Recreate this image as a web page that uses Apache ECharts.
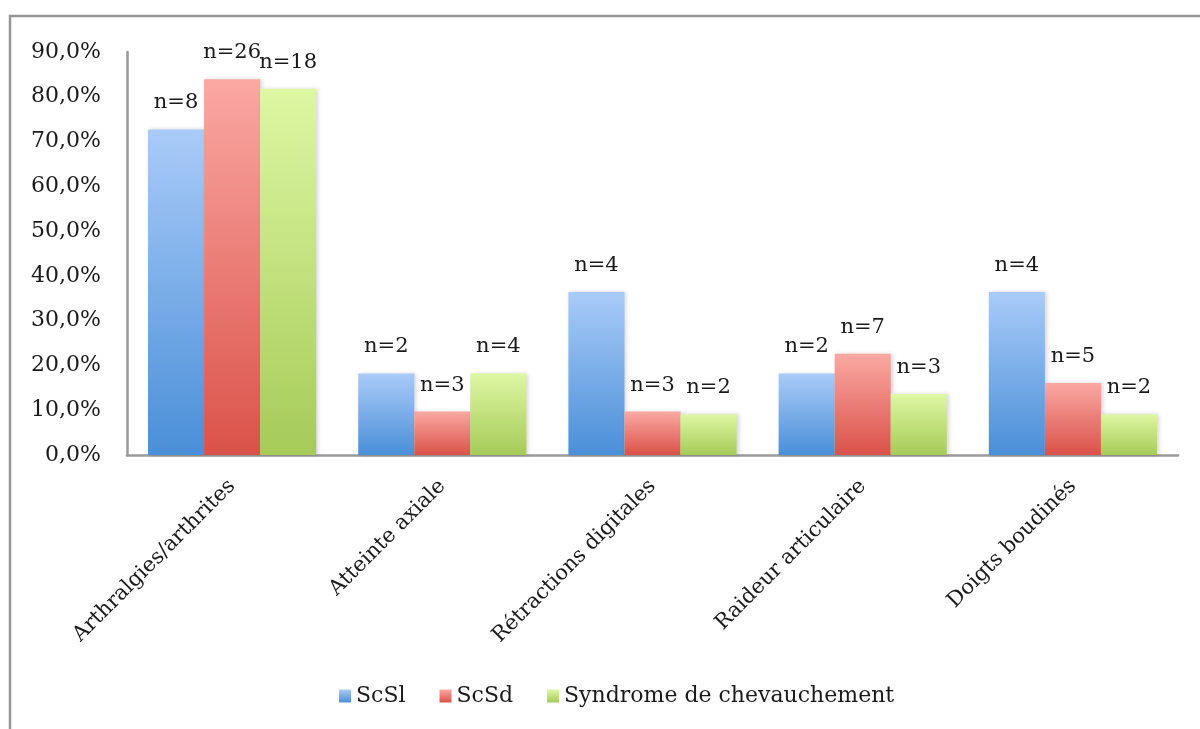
<!DOCTYPE html>
<html>
<head>
<meta charset="utf-8">
<title>Atteintes articulaires</title>
<script src="https://cdn.jsdelivr.net/npm/echarts@6/dist/echarts.min.js"></script>
<style>
  html, body { margin: 0; padding: 0; background: #ffffff; }
  #chart { width: 1200px; height: 729px; }
</style>
</head>
<body>
<div id="chart"></div>
<script>
// Categories of joint involvement
const categories = ['Arthralgies/arthrites', 'Atteinte axiale', 'Rétractions digitales', 'Raideur articulaire', 'Doigts boudinés'];

// Percentages per group
const scslValues = [72.7, 18.2, 36.4, 18.2, 36.4];
const scsdValues = [83.9, 9.7, 9.7, 22.6, 16.1];
const overlapValues = [81.8, 18.2, 9.1, 13.6, 9.1];

// Patient counts shown above each bar
const scslCounts = [8, 2, 4, 2, 4];
const scsdCounts = [26, 3, 3, 7, 5];
const overlapCounts = [18, 4, 2, 3, 2];

const seriesNames = ['ScSl', 'ScSd', 'Syndrome de chevauchement'];

// y-axis ticks
const yMin = 0;
const yMax = 90;
const yStep = 10;

const FONT = '"DejaVu Serif", serif';
const TEXT = '#1a1a1a';

function vGrad(top, bottom) {
  return new echarts.graphic.LinearGradient(0, 0, 0, 1, [
    { offset: 0, color: top },
    { offset: 1, color: bottom }
  ]);
}

function barSeries(name, values, counts, top, bottom) {
  return {
    name: name,
    type: 'bar',
    data: values,
    barGap: '0%',
    barCategoryGap: '20%',
    itemStyle: {
      color: vGrad(top, bottom),
      shadowColor: 'rgba(0,0,0,0.16)',
      shadowBlur: 4,
      shadowOffsetX: 2,
      shadowOffsetY: 0
    },
    label: {
      show: true,
      position: 'top',
      distance: 16,
      fontFamily: FONT,
      fontSize: 21,
      color: TEXT,
      formatter: p => 'n=' + counts[p.dataIndex]
    },
    emphasis: { disabled: true }
  };
}

const chart = echarts.init(document.getElementById('chart'), null, { renderer: 'canvas' });

chart.setOption({
  animation: false,
  backgroundColor: '#ffffff',
  graphic: [{
    type: 'rect',
    shape: { x: 10, y: 16, width: 1300, height: 900 },
    style: { fill: 'none', stroke: '#969696', lineWidth: 2.5 },
    silent: true
  }],
  grid: { left: 127, right: 22, top: 52, bottom: 274, containLabel: false },
  legend: {
    left: 334,
    top: 680,
    itemWidth: 12,
    itemHeight: 13,
    itemGap: 34,
    icon: 'rect',
    textStyle: { fontFamily: FONT, fontSize: 22, color: TEXT },
    data: seriesNames
  },
  xAxis: {
    type: 'category',
    data: categories,
    axisLine: { show: true, lineStyle: { color: '#9a9a9a', width: 2.5 } },
    axisTick: { show: false },
    axisLabel: {
      rotate: 45,
      margin: 28,
      interval: 0,
      fontFamily: FONT,
      fontSize: 21,
      color: TEXT
    }
  },
  yAxis: {
    type: 'value',
    min: yMin,
    max: yMax,
    interval: yStep,
    splitLine: { show: false },
    axisLine: { show: true, lineStyle: { color: '#9a9a9a', width: 2.5 } },
    axisTick: { show: false },
    axisLabel: {
      margin: 26,
      fontFamily: FONT,
      fontSize: 22,
      color: TEXT,
      formatter: v => v.toFixed(1).replace('.', ',') + '%'
    }
  },
  series: [
    barSeries(seriesNames[0], scslValues, scslCounts, '#a9cbf8', '#4a8fd8'),
    barSeries(seriesNames[1], scsdValues, scsdCounts, '#fba8a3', '#da5249'),
    barSeries(seriesNames[2], overlapValues, overlapCounts, '#def7a3', '#a6cb58')
  ]
});
</script>
</body>
</html>
